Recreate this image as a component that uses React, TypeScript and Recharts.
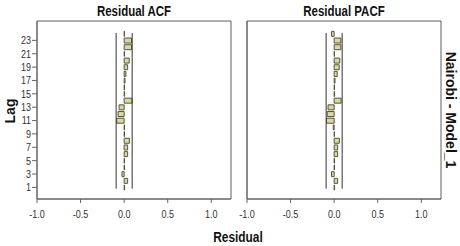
import React from 'react';
import { BarChart, Bar, XAxis, YAxis, ReferenceLine, ReferenceArea } from 'recharts';

const lags = [1, 2, 3, 4, 5, 6, 7, 8, 9, 10, 11, 12, 13, 14, 15, 16, 17, 18, 19, 20, 21, 22, 23, 24];
const acfValues = [0.005, 0.04, -0.025, 0.004, 0.004, 0.04, 0.04, 0.06, 0.004, 0.004, -0.085, -0.07, -0.058, 0.09, 0.005, 0.004, 0.01, 0.02, 0.04, 0.058, 0.004, 0.085, 0.085, 0.004];
const pacfValues = [0.005, 0.04, -0.03, 0.004, 0.004, 0.04, 0.04, 0.06, 0.004, -0.01, -0.088, -0.08, -0.07, 0.08, 0.005, 0.004, 0.01, 0.035, 0.058, 0.065, 0.004, 0.077, 0.077, -0.03];
const xTicks = [-1, -0.5, 0, 0.5, 1];
const lagTicks = [1, 3, 5, 7, 9, 11, 13, 15, 17, 19, 21, 23];
const confidenceLimit = 0.092;
const xDomain: [number, number] = [-1, 1.226];
const lagDomain: [number, number] = [-0.74, 25.9];
const lineSpan: [number, number] = [0.8, 24.1];

const FONT = '"Liberation Sans", Arial, sans-serif';
const NARROW = 0.82;

function XTick(props: any) {
  const { x, y, payload } = props;
  return (
    <g transform={`translate(${x},${y})`}>
      <text
        x={0}
        y={0}
        dy="0.71em"
        textAnchor="middle"
        transform={`scale(${NARROW},1)`}
        fontSize={11}
        fill="#333"
        fontFamily={FONT}
      >
        {Number(payload.value).toFixed(1)}
      </text>
    </g>
  );
}

function YTick(props: any) {
  const { x, y, payload } = props;
  return (
    <g transform={`translate(${x},${y})`}>
      <text
        x={0}
        y={0}
        dy="0.355em"
        textAnchor="end"
        transform={`scale(${NARROW},1)`}
        fontSize={11}
        fill="#333"
        fontFamily={FONT}
      >
        {payload.value}
      </text>
    </g>
  );
}

function Panel({ values, showLagTicks }: { values: number[]; showLagTicks: boolean }) {
  const data = lags.map((lag, i) => ({ lag, value: values[i] }));
  return (
    <BarChart
      width={240}
      height={246}
      data={data}
      layout="vertical"
      margin={{ top: 21, right: 9, bottom: 17, left: 0 }}
    >
      <XAxis
        type="number"
        dataKey="value"
        domain={xDomain}
        allowDataOverflow
        ticks={xTicks}
        tick={<XTick />}
        tickSize={4}
        tickMargin={7}
        height={30}
        stroke="#666"
        interval={0}
      />
      <YAxis
        type="number"
        dataKey="lag"
        domain={lagDomain}
        allowDataOverflow
        reversed
        ticks={lagTicks}
        tick={showLagTicks ? <YTick /> : false}
        tickLine={showLagTicks}
        tickSize={5}
        tickMargin={1}
        width={37}
        stroke="#666"
        interval={0}
      />
      <ReferenceArea
        x1={xDomain[0]}
        x2={xDomain[1]}
        y1={lagDomain[0]}
        y2={lagDomain[1]}
        fill="none"
        fillOpacity={0}
        stroke="#5e5e5e"
        strokeWidth={1}
        ifOverflow="visible"
      />
      <ReferenceLine
        segment={[{ x: -confidenceLimit, y: lineSpan[0] }, { x: -confidenceLimit, y: lineSpan[1] }]}
        stroke="#333"
        strokeWidth={1}
      />
      <ReferenceLine
        segment={[{ x: confidenceLimit, y: lineSpan[0] }, { x: confidenceLimit, y: lineSpan[1] }]}
        stroke="#333"
        strokeWidth={1}
      />
      <Bar
        dataKey="value"
        fill="#dcd6a2"
        stroke="#55553f"
        strokeWidth={1}
        barSize={5}
        isAnimationActive={false}
      />
    </BarChart>
  );
}

export default function App() {
  const bold = { fontWeight: 700, color: '#111', whiteSpace: 'nowrap' as const, lineHeight: 1, position: 'absolute' as const, fontFamily: FONT };
  return (
    <div style={{ position: 'absolute', left: 0, top: 0, width: 460, height: 246, background: '#fff', overflow: 'hidden' }}>
      <div style={{ position: 'absolute', left: 0, top: 0 }}>
        <Panel values={acfValues} showLagTicks={true} />
      </div>
      <div style={{ position: 'absolute', left: 210, top: 0 }}>
        <Panel values={pacfValues} showLagTicks={false} />
      </div>
      <div style={{ ...bold, left: 133.8, top: 11, transform: `translate(-50%, -50%) scaleX(${NARROW})`, fontSize: 14 }}>Residual ACF</div>
      <div style={{ ...bold, left: 344, top: 11, transform: `translate(-50%, -50%) scaleX(${NARROW})`, fontSize: 14 }}>Residual PACF</div>
      <div style={{ ...bold, left: 238, top: 236.5, transform: `translate(-50%, -50%) scaleX(${NARROW})`, fontSize: 14.5 }}>Residual</div>
      <div style={{ ...bold, left: 9.5, top: 110.5, transform: 'translate(-50%, -50%) rotate(-90deg)', fontSize: 14 }}>Lag</div>
      <div style={{ ...bold, left: 450.5, top: 110, transform: 'translate(-50%, -50%) rotate(90deg)', fontSize: 14 }}>Nairobi - Model_1</div>
    </div>
  );
}
